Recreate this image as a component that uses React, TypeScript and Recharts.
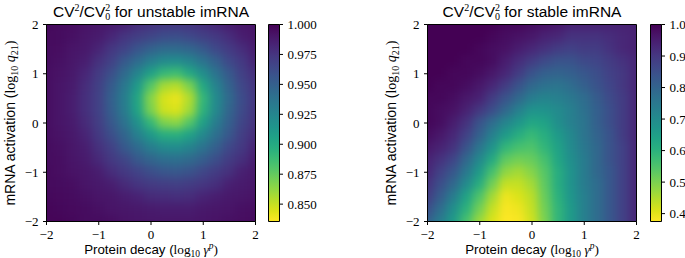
import React from "react";
import { ScatterChart, Scatter, XAxis, YAxis, ReferenceArea } from "recharts";

// grid positions (log10 units), shared by both axes of each map
const gridSteps = [-2, -1.75, -1.5, -1.25, -1, -0.75, -0.5, -0.25, 0, 0.25, 0.5, 0.75, 1, 1.25, 1.5, 1.75, 2];
const axisTicks = [-2, -1, 0, 1, 2];

// CV^2/CV0^2, unstable imRNA. rows run from y = 2 (top) down to y = -2
const unstableRows = [
  [0.997, 0.995, 0.994, 0.992, 0.99, 0.988, 0.985, 0.979, 0.976, 0.974, 0.974, 0.975, 0.978, 0.982, 0.987, 0.99, 0.991],
  [0.996, 0.995, 0.993, 0.99, 0.988, 0.982, 0.975, 0.97, 0.966, 0.962, 0.961, 0.964, 0.969, 0.973, 0.979, 0.986, 0.99],
  [0.995, 0.994, 0.991, 0.989, 0.983, 0.974, 0.967, 0.957, 0.949, 0.944, 0.944, 0.947, 0.954, 0.964, 0.972, 0.979, 0.987],
  [0.995, 0.993, 0.99, 0.986, 0.977, 0.968, 0.954, 0.943, 0.93, 0.922, 0.92, 0.926, 0.938, 0.95, 0.964, 0.973, 0.983],
  [0.994, 0.992, 0.989, 0.982, 0.972, 0.96, 0.944, 0.926, 0.907, 0.891, 0.887, 0.901, 0.919, 0.938, 0.954, 0.969, 0.978],
  [0.994, 0.991, 0.988, 0.979, 0.969, 0.953, 0.935, 0.911, 0.88, 0.858, 0.854, 0.869, 0.901, 0.927, 0.948, 0.965, 0.975],
  [0.994, 0.991, 0.987, 0.978, 0.968, 0.95, 0.931, 0.903, 0.866, 0.846, 0.841, 0.855, 0.891, 0.921, 0.944, 0.962, 0.974],
  [0.994, 0.991, 0.987, 0.978, 0.968, 0.951, 0.932, 0.905, 0.869, 0.848, 0.845, 0.859, 0.894, 0.923, 0.946, 0.963, 0.975],
  [0.994, 0.991, 0.988, 0.98, 0.97, 0.955, 0.939, 0.917, 0.891, 0.868, 0.864, 0.88, 0.907, 0.931, 0.95, 0.966, 0.976],
  [0.994, 0.992, 0.989, 0.983, 0.973, 0.961, 0.947, 0.929, 0.912, 0.898, 0.896, 0.906, 0.923, 0.94, 0.955, 0.97, 0.979],
  [0.995, 0.993, 0.99, 0.986, 0.977, 0.968, 0.954, 0.943, 0.93, 0.922, 0.92, 0.926, 0.938, 0.95, 0.964, 0.973, 0.983],
  [0.995, 0.994, 0.991, 0.988, 0.981, 0.973, 0.966, 0.954, 0.947, 0.941, 0.94, 0.944, 0.951, 0.961, 0.971, 0.978, 0.987],
  [0.996, 0.994, 0.992, 0.99, 0.987, 0.979, 0.973, 0.967, 0.961, 0.956, 0.955, 0.958, 0.965, 0.971, 0.977, 0.985, 0.989],
  [0.996, 0.995, 0.994, 0.991, 0.989, 0.986, 0.98, 0.975, 0.972, 0.97, 0.969, 0.971, 0.974, 0.978, 0.985, 0.988, 0.99],
  [0.997, 0.996, 0.995, 0.993, 0.991, 0.99, 0.987, 0.984, 0.98, 0.979, 0.978, 0.979, 0.983, 0.986, 0.989, 0.99, 0.992],
  [0.998, 0.997, 0.996, 0.995, 0.993, 0.991, 0.99, 0.989, 0.988, 0.987, 0.987, 0.987, 0.989, 0.99, 0.991, 0.993, 0.994],
  [0.998, 0.998, 0.997, 0.995, 0.995, 0.994, 0.992, 0.991, 0.99, 0.99, 0.99, 0.99, 0.991, 0.992, 0.993, 0.994, 0.995],
];

// CV^2/CV0^2, stable imRNA. rows run from y = 2 (top) down to y = -2
const stableRows = [
  [1.0, 1.0, 1.0, 1.0, 1.0, 1.0, 0.99, 0.99, 0.98, 0.97, 0.96, 0.94, 0.94, 0.94, 0.94, 0.94, 0.94],
  [1.0, 1.0, 1.0, 1.0, 1.0, 0.99, 0.98, 0.97, 0.96, 0.94, 0.93, 0.91, 0.91, 0.91, 0.92, 0.93, 0.94],
  [1.0, 1.0, 1.0, 1.0, 0.99, 0.98, 0.97, 0.95, 0.93, 0.91, 0.89, 0.88, 0.89, 0.89, 0.91, 0.93, 0.94],
  [1.0, 1.0, 1.0, 0.99, 0.99, 0.98, 0.95, 0.92, 0.89, 0.86, 0.84, 0.84, 0.86, 0.87, 0.89, 0.91, 0.93],
  [1.0, 1.0, 0.99, 0.99, 0.98, 0.96, 0.93, 0.89, 0.84, 0.81, 0.8, 0.81, 0.83, 0.85, 0.88, 0.9, 0.93],
  [1.0, 0.99, 0.99, 0.98, 0.96, 0.93, 0.89, 0.84, 0.79, 0.77, 0.76, 0.78, 0.81, 0.84, 0.87, 0.9, 0.93],
  [0.99, 0.99, 0.98, 0.96, 0.94, 0.89, 0.84, 0.79, 0.74, 0.72, 0.73, 0.75, 0.78, 0.82, 0.86, 0.89, 0.93],
  [0.99, 0.98, 0.97, 0.94, 0.9, 0.85, 0.79, 0.73, 0.68, 0.68, 0.7, 0.73, 0.77, 0.81, 0.85, 0.89, 0.93],
  [0.99, 0.98, 0.95, 0.91, 0.84, 0.78, 0.72, 0.67, 0.63, 0.64, 0.69, 0.73, 0.76, 0.81, 0.85, 0.89, 0.93],
  [0.98, 0.96, 0.93, 0.88, 0.81, 0.73, 0.66, 0.61, 0.58, 0.61, 0.66, 0.71, 0.76, 0.8, 0.84, 0.89, 0.93],
  [0.96, 0.94, 0.91, 0.84, 0.76, 0.68, 0.59, 0.56, 0.55, 0.59, 0.64, 0.7, 0.75, 0.79, 0.84, 0.88, 0.93],
  [0.94, 0.91, 0.87, 0.79, 0.71, 0.62, 0.53, 0.51, 0.52, 0.56, 0.63, 0.69, 0.74, 0.79, 0.84, 0.88, 0.93],
  [0.93, 0.88, 0.83, 0.75, 0.66, 0.56, 0.48, 0.46, 0.49, 0.54, 0.61, 0.68, 0.74, 0.79, 0.83, 0.88, 0.93],
  [0.91, 0.85, 0.79, 0.7, 0.61, 0.51, 0.43, 0.43, 0.46, 0.53, 0.61, 0.68, 0.74, 0.78, 0.83, 0.88, 0.93],
  [0.89, 0.82, 0.74, 0.64, 0.55, 0.46, 0.39, 0.41, 0.44, 0.52, 0.6, 0.67, 0.73, 0.78, 0.83, 0.88, 0.93],
  [0.85, 0.78, 0.69, 0.6, 0.51, 0.43, 0.38, 0.39, 0.43, 0.51, 0.59, 0.66, 0.73, 0.78, 0.83, 0.88, 0.93],
  [0.81, 0.74, 0.66, 0.56, 0.47, 0.41, 0.375, 0.38, 0.42, 0.5, 0.59, 0.66, 0.73, 0.78, 0.83, 0.88, 0.93],
];

const unstableRange = [0.8355, 1.0];
const stableRange = [0.375, 1.0];
const unstableBarTicks = [0.85, 0.875, 0.9, 0.925, 0.95, 0.975, 1.0];
const stableBarTicks = [0.4, 0.5, 0.6, 0.7, 0.8, 0.9, 1.0];

const VIRIDIS = [
  "#440154", "#481467", "#482576", "#453781", "#404688", "#39558c", "#33638d",
  "#2d718e", "#287d8e", "#238a8d", "#1f968b", "#20a386", "#29af7f", "#3dbc74",
  "#56c667", "#75d054", "#95d840", "#bade28", "#dde318", "#fde725",
];

const SANS = '"Liberation Sans", Arial, sans-serif';
const SERIF = '"Liberation Serif", "DejaVu Serif", serif';

// layout of one heatmap chart (both panels share it); frame edges sit on half pixels
const CHART_W = 300;
const CHART_H = 258;
const Y_AXIS_W = 46.5;
const PLOT_TOP = 24.5;
const PLOT_W = 209;
const PLOT_H = 197;
const X_AXIS_H = CHART_H - PLOT_TOP - PLOT_H;
const CELL_W = PLOT_W / (gridSteps.length - 1);
const CELL_H = PLOT_H / (gridSteps.length - 1);
const BLEED = 16; // edge cells run past the frame so the blur has no empty border
const BAR_LEFT = 8.5;
const BAR_W = 11;

const hex = (h: string) => [1, 3, 5].map((i) => parseInt(h.slice(i, i + 2), 16));

// viridis reversed: high values purple, low values yellow
function colorFor(v: number, range: number[]) {
  const t = Math.min(1, Math.max(0, (v - range[0]) / (range[1] - range[0])));
  const p = (1 - t) * (VIRIDIS.length - 1);
  const i = Math.min(VIRIDIS.length - 2, Math.floor(p));
  const f = p - i;
  const a = hex(VIRIDIS[i]);
  const b = hex(VIRIDIS[i + 1]);
  const c = a.map((ch, k) => Math.round(ch + (b[k] - ch) * f));
  return `rgb(${c[0]},${c[1]},${c[2]})`;
}

const toPoints = (rows: number[][]) =>
  rows.flatMap((row, r) =>
    row.map((v, c) => ({ x: gridSteps[c], y: gridSteps[gridSteps.length - 1 - r], v }))
  );

const fmtAxis = (v: number) => (v < 0 ? `\u2212${Math.abs(v)}` : `${v}`);

const tickStyle = { fontFamily: SERIF, fontSize: 13, fill: "#000" };

function HeatPanel({ rows, range, left }: { rows: number[][]; range: number[]; left: number }) {
  const points = toPoints(rows);
  const lo = gridSteps[0];
  const hi = gridSteps[gridSteps.length - 1];
  const cell = (p: any) => {
    const { x, y, v } = p.payload;
    const padL = x === lo ? BLEED : 0.5;
    const padR = x === hi ? BLEED : 0.5;
    const padT = y === hi ? BLEED : 0.5;
    const padB = y === lo ? BLEED : 0.5;
    return (
      <rect
        x={p.cx - CELL_W / 2 - padL}
        y={p.cy - CELL_H / 2 - padT}
        width={CELL_W + padL + padR}
        height={CELL_H + padT + padB}
        fill={colorFor(v, range)}
      />
    );
  };
  return (
    <div className="heatmap" style={{ position: "absolute", left, top: 0 }}>
      <ScatterChart
        width={CHART_W}
        height={CHART_H}
        margin={{ top: PLOT_TOP, right: CHART_W - Y_AXIS_W - PLOT_W, bottom: 0, left: 0 }}
      >
        <Scatter data={points} shape={cell} isAnimationActive={false} />
        <ReferenceArea x1={-2} x2={2} y1={-2} y2={2} fill="none" fillOpacity={0} stroke="#000" strokeWidth={1} />
        <XAxis
          type="number"
          dataKey="x"
          domain={[-2, 2]}
          ticks={axisTicks}
          tickFormatter={fmtAxis}
          height={X_AXIS_H}
          tickSize={3.5}
          tickMargin={5}
          tick={tickStyle}
          stroke="#000"
          allowDataOverflow
        />
        <YAxis
          type="number"
          dataKey="y"
          domain={[-2, 2]}
          ticks={axisTicks}
          tickFormatter={fmtAxis}
          width={Y_AXIS_W}
          tickSize={3.5}
          tickMargin={4.5}
          tick={tickStyle}
          stroke="#000"
          allowDataOverflow
        />
      </ScatterChart>
    </div>
  );
}

function ColorBar({ range, ticks, digits, left }: { range: number[]; ticks: number[]; digits: number; left: number }) {
  const ends = [{ x: 0, y: range[0] }, { x: 1, y: range[1] }];
  return (
    <div style={{ position: "absolute", left, top: 0 }}>
      <ScatterChart width={90} height={CHART_H} margin={{ top: PLOT_TOP, right: 0, bottom: X_AXIS_H, left: BAR_LEFT }}>
        <XAxis type="number" dataKey="x" domain={[0, 1]} hide />
        <YAxis
          type="number"
          dataKey="y"
          orientation="right"
          domain={range}
          ticks={ticks}
          tickFormatter={(v: number) => v.toFixed(digits)}
          width={90 - BAR_LEFT - BAR_W}
          axisLine={false}
          tickSize={3.5}
          tickMargin={4.5}
          tick={tickStyle}
          stroke="#000"
          allowDataOverflow
        />
        <Scatter data={ends} shape={() => <g />} isAnimationActive={false} />
        <ReferenceArea
          x1={0}
          x2={1}
          y1={range[0]}
          y2={range[1]}
          fill="url(#viridisBar)"
          fillOpacity={1}
          stroke="#000"
          strokeWidth={1}
        />
      </ScatterChart>
    </div>
  );
}

function Title({ cx, label }: { cx: number; label: string }) {
  return (
    <text x={cx} y={16.5} textAnchor="middle" fontFamily={SANS} fontSize={15.5} fill="#000">
      CV
      <tspan fontFamily={SERIF} fontSize={10} dy={-6}>2</tspan>
      <tspan dy={6}>/CV</tspan>
      <tspan fontFamily={SERIF} fontSize={10} dy={3}>0</tspan>
      <tspan fontFamily={SERIF} fontSize={10} dx={-5} dy={-9}>2</tspan>
      <tspan dy={6}>{` for ${label} imRNA`}</tspan>
    </text>
  );
}

function XLabel({ cx }: { cx: number }) {
  return (
    <text x={cx} y={254} textAnchor="middle" fontFamily={SANS} fontSize={13.3} fill="#000">
      Protein decay (
      <tspan fontFamily={SERIF}>log</tspan>
      <tspan fontFamily={SERIF} fontSize={9.5} dy={3}>10</tspan>
      <tspan fontFamily={SERIF} fontStyle="italic" dy={-3}>{" \u03b3"}</tspan>
      <tspan fontFamily={SERIF} fontStyle="italic" fontSize={9.5} dy={-5}>p</tspan>
      <tspan fontFamily={SERIF} dy={5}>)</tspan>
    </text>
  );
}

function YLabel({ x }: { x: number }) {
  return (
    <text
      transform={`translate(${x},${PLOT_TOP + PLOT_H / 2}) rotate(-90)`}
      textAnchor="middle"
      fontFamily={SANS}
      fontSize={14}
      fill="#000"
    >
      mRNA activation (
      <tspan fontFamily={SERIF}>log</tspan>
      <tspan fontFamily={SERIF} fontSize={10} dy={3}>10</tspan>
      <tspan fontFamily={SERIF} fontStyle="italic" dy={-3}>{" q"}</tspan>
      <tspan fontFamily={SERIF} fontSize={10} dy={3}>21</tspan>
      <tspan fontFamily={SERIF} dy={-3}>)</tspan>
    </text>
  );
}

export default function App() {
  const leftX = 0;
  const rightX = 381;
  const plotMid = Y_AXIS_W + PLOT_W / 2;
  return (
    <div
      style={{
        position: "absolute",
        left: 0,
        top: 0,
        width: 685,
        height: 258,
        overflow: "hidden",
        background: "#fff",
      }}
    >
      <style>{`.heatmap .recharts-scatter { filter: url(#heatBlur); clip-path: url(#plotClip); }`}</style>
      <svg width={0} height={0} style={{ position: "absolute" }}>
        <defs>
          <filter id="heatBlur" x="-10%" y="-10%" width="120%" height="120%" colorInterpolationFilters="sRGB">
            <feGaussianBlur stdDeviation={4.5} />
          </filter>
          <clipPath id="plotClip">
            <rect x={Y_AXIS_W + 0.5} y={PLOT_TOP + 0.5} width={PLOT_W - 1} height={PLOT_H - 1} />
          </clipPath>
          <linearGradient id="viridisBar" x1="0" y1="0" x2="0" y2="1">
            {VIRIDIS.map((c, i) => (
              <stop key={c} offset={i / (VIRIDIS.length - 1)} stopColor={c} />
            ))}
          </linearGradient>
        </defs>
      </svg>
      <HeatPanel rows={unstableRows} range={unstableRange} left={leftX} />
      <ColorBar range={unstableRange} ticks={unstableBarTicks} digits={3} left={260} />
      <HeatPanel rows={stableRows} range={stableRange} left={rightX} />
      <ColorBar range={stableRange} ticks={stableBarTicks} digits={1} left={642} />
      <svg width={685} height={258} style={{ position: "absolute", left: 0, top: 0, pointerEvents: "none" }}>
        <Title cx={leftX + plotMid} label="unstable" />
        <Title cx={rightX + plotMid} label="stable" />
        <XLabel cx={leftX + plotMid} />
        <XLabel cx={rightX + plotMid} />
        <YLabel x={15} />
        <YLabel x={rightX + 15} />
      </svg>
    </div>
  );
}
